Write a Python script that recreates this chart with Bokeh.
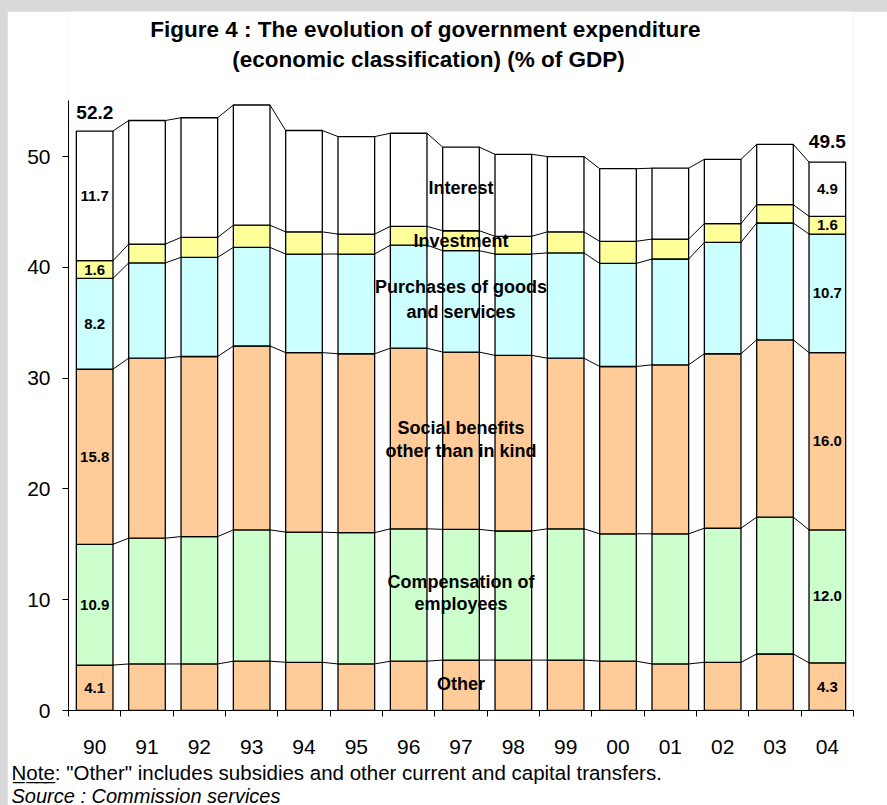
from bokeh.plotting import figure
from bokeh.models import FixedTicker, Title, Label
from bokeh.layouts import column
from bokeh.embed import file_html
from bokeh.resources import INLINE
from bokeh.core.properties import value

# ---- data (% of GDP) ----
years = ["90", "91", "92", "93", "94", "95", "96", "97", "98", "99", "00", "01", "02", "03", "04"]
other = [4.1, 4.2, 4.2, 4.45, 4.35, 4.2, 4.45, 4.55, 4.55, 4.55, 4.45, 4.2, 4.35, 5.1, 4.3]
compensation = [10.9, 11.35, 11.5, 11.85, 11.75, 11.85, 11.95, 11.8, 11.65, 11.85, 11.5, 11.75, 12.1, 12.35, 12.0]
social = [15.8, 16.25, 16.25, 16.6, 16.2, 16.15, 16.3, 16.0, 15.85, 15.4, 15.1, 15.25, 15.75, 16.0, 16.0]
purchases = [8.2, 8.6, 8.95, 8.9, 8.9, 9.0, 9.3, 9.15, 9.15, 9.5, 9.3, 9.55, 10.05, 10.55, 10.7]
investment = [1.6, 1.7, 1.8, 2.0, 2.0, 1.8, 1.7, 1.8, 1.6, 1.9, 2.0, 1.8, 1.7, 1.65, 1.6]
interest = [11.7, 11.15, 10.8, 10.85, 9.15, 8.8, 8.4, 7.55, 7.4, 6.8, 6.55, 6.4, 5.8, 5.45, 4.9]
total_labels = {"90": "52.2", "04": "49.5"}

series_colors = ["#FFCC99", "#CCFFCC", "#FFCC99", "#CCFFFF", "#FFFF99", "#FFFFFF"]
layers = [other, compensation, social, purchases, investment, interest]

FONT = "Liberation Sans"
n = len(years)
xs = [i + 0.5 for i in range(n)]
BW = 0.7
Y_AXIS_TOP = 55.05

p = figure(width=880, height=794, x_range=(0, n), y_range=(0, 63.09),
           output_backend="svg", toolbar_location=None,
           min_border_left=61, min_border_right=34, min_border_top=0, min_border_bottom=95)
p.background_fill_color = "white"
p.border_fill_color = "white"
p.outline_line_color = None
p.xgrid.visible = False
p.ygrid.visible = False

bottoms = [0.0] * n
cum = []
bots = []
for vals, col in zip(layers, series_colors):
    tops = [b + v for b, v in zip(bottoms, vals)]
    p.vbar(x=xs, bottom=bottoms, top=tops, width=BW, fill_color=col,
           line_color="black", line_width=1.3)
    bots.append(bottoms)
    cum.append(tops)
    bottoms = tops

# series connector lines
for tops in cum:
    p.segment(x0=[v + BW / 2 for v in xs[:-1]], y0=tops[:-1],
              x1=[v - BW / 2 for v in xs[1:]], y1=tops[1:],
              line_color="black", line_width=1)

# value labels for first and last year
for idx in (0, n - 1):
    lx, ly, lt = [], [], []
    for vals, b in zip(layers, bots):
        lx.append(xs[idx])
        ly.append(b[idx] + vals[idx] / 2)
        lt.append(f"{vals[idx]:.1f}")
    p.text(x=lx, y=ly, text=lt, text_align="center", text_baseline="middle",
           text_font=value(FONT), text_font_style="bold", text_font_size="15px",
           text_color="black")

p.text(x=[xs[0] - BW / 2], y=[cum[-1][0]], text=[total_labels["90"]], text_align="left",
       text_baseline="alphabetic", y_offset=-19, text_font=value(FONT),
       text_font_style="bold", text_font_size="19px", text_color="black")
p.text(x=[xs[-1]], y=[cum[-1][-1]], text=[total_labels["04"]], text_align="center",
       text_baseline="alphabetic", y_offset=-21, text_font=value(FONT),
       text_font_style="bold", text_font_size="19px", text_color="black")

# category labels
cat_text = ["Interest", "Investment", "Purchases of goods", "and services",
            "Social benefits", "other than in kind", "Compensation of", "employees", "Other"]
cat_y = [47.2, 42.4, 38.2, 36.0, 25.5, 23.4, 11.6, 9.6, 2.35]
p.text(x=[n / 2] * len(cat_text), y=cat_y, text=cat_text, text_align="center",
       text_baseline="middle", text_font=value(FONT), text_font_style="bold",
       text_font_size="18px", text_color="black")

# axes
p.xaxis.ticker = FixedTicker(ticks=xs, minor_ticks=list(range(n + 1)))
p.xaxis.major_label_overrides = {x: y for x, y in zip(xs, years)}
p.xaxis.major_tick_out = 0
p.xaxis.major_tick_in = 0
p.xaxis.minor_tick_out = 6
p.xaxis.minor_tick_in = 0
p.xaxis.minor_tick_line_color = "black"
p.xaxis.major_label_standoff = 23

p.yaxis.ticker = FixedTicker(ticks=[0, 10, 20, 30, 40, 50])
p.yaxis.bounds = (0, Y_AXIS_TOP)
p.yaxis.major_tick_out = 6
p.yaxis.major_tick_in = 0
p.yaxis.minor_tick_line_color = None
p.yaxis.major_label_standoff = 12

for ax in (p.xaxis, p.yaxis):
    ax.axis_line_color = "black"
    ax.major_tick_line_color = "black"
    ax.major_label_text_font = FONT
    ax.major_label_text_font_size = "21px"
    ax.major_label_text_color = "black"

# title (two lines), screen units relative to the plot frame
p.add_layout(Label(x=360, y=681, x_units="screen", y_units="screen",
                   text="Figure 4 : The evolution of government  expenditure",
                   text_align="center", text_baseline="middle", text_font=FONT,
                   text_font_style="bold", text_font_size="22.5px", text_color="black"))
p.add_layout(Label(x=360, y=651, x_units="screen", y_units="screen",
                   text="(economic classification) (% of GDP)",
                   text_align="center", text_baseline="middle", text_font=FONT,
                   text_font_style="bold", text_font_size="22.5px", text_color="black"))

# notes below the axis
p.add_layout(Title(text='N\u0332o\u0332t\u0332e\u0332: "Other" includes subsidies and other current and capital transfers.',
                   align="left", offset=-57, standoff=5, text_font=FONT, text_font_style="normal",
                   text_font_size="20.5px", text_color="black"), "below")
p.add_layout(Title(text="Source : Commission services", align="left", offset=-57, standoff=-8,
                   text_font=FONT, text_font_style="italic",
                   text_font_size="20px", text_color="black"), "below")

p.margin = (11, 0, 0, 7)
lay = column(p, width=887, height=805, styles={"background-color": "#d9d9d9"})
open("out.html", "w").write(file_html(lay, INLINE))
